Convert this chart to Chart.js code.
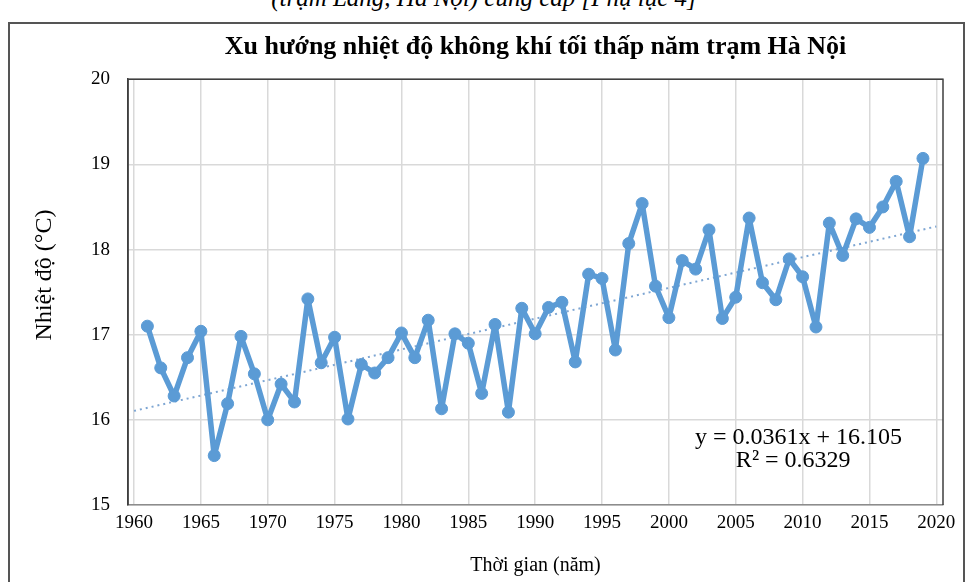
<!DOCTYPE html>
<html lang="vi">
<head>
<meta charset="utf-8">
<script src="https://cdn.jsdelivr.net/npm/chart.js@4.4.1/dist/chart.umd.min.js"></script>
<style>
  html, body { margin: 0; padding: 0; background: #fff; width: 968px; height: 582px; overflow: hidden; }
  #wrap { position: relative; width: 968px; height: 582px; }
  #caption { position: absolute; left: 0; width: 968px; top: -16px; text-align: center;
             font: italic 25px "Liberation Serif", "DejaVu Serif", serif; line-height: 28px; color: #000; }
  #frame { position: absolute; left: 8px; top: 22px; width: 957px; height: 580px;
           border: 2px solid #555; box-sizing: border-box; }
  #c { position: absolute; left: 0; top: 0; }
</style>
</head>
<body>
<div id="wrap">
  <div id="caption">(trạm Láng, Hà Nội) cung cấp [Phụ lục 4]</div>
  <div id="frame"></div>
  <canvas id="c" width="968" height="582"></canvas>
</div>
<script>
// Annual minimum air temperature, Hà Nội station (°C)
const years = [
  1961, 1962, 1963, 1964, 1965, 1966, 1967, 1968, 1969, 1970,
  1971, 1972, 1973, 1974, 1975, 1976, 1977, 1978, 1979, 1980,
  1981, 1982, 1983, 1984, 1985, 1986, 1987, 1988, 1989, 1990,
  1991, 1992, 1993, 1994, 1995, 1996, 1997, 1998, 1999, 2000,
  2001, 2002, 2003, 2004, 2005, 2006, 2007, 2008, 2009, 2010,
  2011, 2012, 2013, 2014, 2015, 2016, 2017, 2018, 2019
];
const tempMin = [
  17.10, 16.61, 16.28, 16.73, 17.04, 15.58, 16.19, 16.98, 16.54, 16.00,
  16.42, 16.21, 17.42, 16.67, 16.97, 16.01, 16.65, 16.55, 16.73, 17.02,
  16.73, 17.17, 16.13, 17.01, 16.90, 16.31, 17.12, 16.09, 17.31, 17.01,
  17.32, 17.38, 16.68, 17.71, 17.66, 16.82, 18.07, 18.54, 17.57, 17.20,
  17.87, 17.77, 18.23, 17.19, 17.44, 18.37, 17.61, 17.41, 17.89, 17.68,
  17.09, 18.31, 17.93, 18.36, 18.26, 18.50, 18.80, 18.15, 19.07
];

// Linear trend (x = 1 for 1961) and its fit
const trendSlope = 0.0361;
const trendIntercept = 16.105;
const trendR2 = 0.6329;
const trendYears = [1960, 2020];

const xTicks = [1960, 1965, 1970, 1975, 1980, 1985, 1990, 1995, 2000, 2005, 2010, 2015, 2020];
const yTicks = [15, 16, 17, 18, 19, 20];

const SERIF = '"Liberation Serif", "Times New Roman", "DejaVu Serif", serif';
const BLUE = '#5b9bd5';

const seriesPoints = years.map((y, i) => ({ x: y, y: tempMin[i] }));
const trendPoints = trendYears.map(y => ({ x: y, y: trendIntercept + trendSlope * (y - 1960) }));

// Plot-area frame, vertical axis title and the trend equation text
const framePlugin = {
  id: 'plotFrame',
  beforeDatasetsDraw(chart) {
    const { ctx, chartArea: a } = chart;
    ctx.save();
    ctx.strokeStyle = '#3f3f3f';
    ctx.lineWidth = 1.5;
    ctx.beginPath();
    ctx.moveTo(a.left, a.bottom);
    ctx.lineTo(a.left, a.top);
    ctx.lineTo(a.right, a.top);
    ctx.lineTo(a.right, a.bottom);
    ctx.stroke();
    ctx.restore();
  },
  afterDraw(chart) {
    const { ctx } = chart;
    const xs = chart.scales.x, ys = chart.scales.y;
    ctx.save();
    ctx.fillStyle = '#000';
    ctx.textAlign = 'center';
    ctx.textBaseline = 'middle';

    ctx.save();
    ctx.translate(45, 275);
    ctx.rotate(-Math.PI / 2);
    ctx.font = '24px ' + SERIF;
    ctx.fillText('Nhiệt độ (°C)', 0, 0);
    ctx.restore();

    ctx.font = '24px ' + SERIF;
    ctx.fillText('y = ' + trendSlope + 'x + ' + trendIntercept,
      xs.getPixelForValue(2009.7), ys.getPixelForValue(15.79));
    ctx.fillText('R² = ' + trendR2,
      xs.getPixelForValue(2009.3), ys.getPixelForValue(15.52));
    ctx.restore();
  }
};

new Chart(document.getElementById('c'), {
  type: 'scatter',
  data: {
    datasets: [
      {
        label: 'Nhiệt độ tối thấp năm',
        data: seriesPoints,
        showLine: true,
        borderColor: BLUE,
        backgroundColor: BLUE,
        borderWidth: 5.5,
        borderJoinStyle: 'round',
        borderCapStyle: 'round',
        pointRadius: 6,
        pointBorderWidth: 1,
        pointBorderColor: BLUE,
        pointBackgroundColor: BLUE,
        order: 1
      },
      {
        label: 'Xu hướng',
        data: trendPoints,
        showLine: true,
        borderColor: '#7ea6d3',
        borderWidth: 2,
        borderDash: [2, 4],
        pointRadius: 0,
        order: 2
      }
    ]
  },
  options: {
    responsive: false,
    animation: false,
    layout: { padding: { left: 0, right: 25, top: 0, bottom: 0 } },
    plugins: {
      legend: { display: false },
      tooltip: { enabled: false },
      title: {
        display: true,
        fullSize: false,
        text: 'Xu hướng nhiệt độ không khí tối thấp năm trạm Hà Nội',
        color: '#000',
        font: { family: SERIF, size: 26, weight: 'bold' },
        padding: { top: 32, bottom: 16 }
      }
    },
    scales: {
      x: {
        type: 'linear',
        min: 1959.55,
        max: 2020.5,
        afterBuildTicks(s) { s.ticks = xTicks.map(v => ({ value: v })); },
        afterFit(s) { s.height = 77; },
        ticks: { autoSkip: false, maxRotation: 0, color: '#000', padding: 7,
                 font: { family: SERIF, size: 19 }, callback: v => String(v) },
        grid: { color: '#d9d9d9', lineWidth: 1.5, drawTicks: false },
        border: { color: '#8c8c8c', width: 1.5 },
        title: { display: true, text: 'Thời gian (năm)', color: '#000',
                 font: { family: SERIF, size: 20 }, padding: { top: 0, bottom: 4 } }
      },
      y: {
        min: 15,
        max: 20,
        afterBuildTicks(s) { s.ticks = yTicks.map(v => ({ value: v })); },
        afterFit(s) { s.width = 128; },
        ticks: { color: '#000', padding: 18, font: { family: SERIF, size: 19 } },
        grid: { color: '#d9d9d9', lineWidth: 1.5, drawTicks: false },
        border: { color: '#3f3f3f', width: 1.5 },
        title: { display: false }
      }
    }
  },
  plugins: [framePlugin]
});
</script>
</body>
</html>
